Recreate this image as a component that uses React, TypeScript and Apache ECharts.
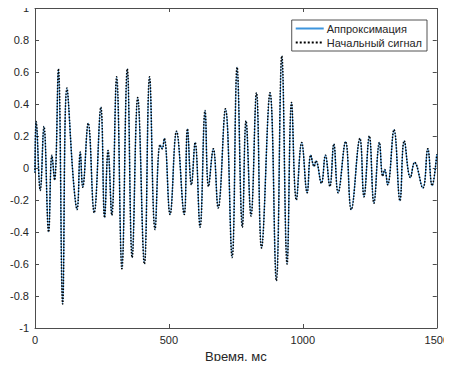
import React, { useEffect, useRef } from "react";
import * as echarts from "echarts";

// Time (ms) of each extremum
const timeMs = [
  0, 4.5, 19.7, 33.4, 50.9, 63.1, 73.1, 87.3, 103.2, 119.2, 143.7, 157.1, 168.9, 178.2,
  198.6, 220.9, 245.8, 259.9, 272.9, 286.6, 304.8, 324.5, 344.6, 362.7, 383.5, 408.4,
  427.7, 448.1, 466.7, 474.5, 482.7, 504.2, 528.4, 557, 569.2, 584, 597.8, 616.3, 634.9,
  647.9, 665.7, 683.9, 711, 735.9, 754.5, 774.1, 787.9, 806.5, 826.9, 845.8, 877.4,
  901.1, 921.5, 941.2, 957.9, 975.8, 995.8, 1016.2, 1029.6, 1042.2, 1048.9, 1069.3,
  1084.2, 1100.9, 1115.7, 1131.7, 1159.5, 1180.7, 1213, 1228.3, 1248.3, 1265.4, 1285.8,
  1298.4, 1305.8, 1316.6, 1340.4, 1362.6, 1378.6, 1401.6, 1417.2, 1448, 1466.6, 1482.5,
  1500,
];

// Original signal values
const signal = [
  -0.03, 0.29, -0.14, 0.26, -0.4, 0.08, -0.075, 0.62, -0.85, 0.5, -0.085, -0.26, 0.1, -0.12,
  0.28, -0.28, 0.38, -0.31, 0.11, -0.295, 0.57, -0.63, 0.62, -0.56, 0.44, -0.6,
  0.57, -0.385, 0.145, 0.12, 0.185, -0.29, 0.23, -0.29, 0.245, -0.105, 0.16, -0.37, 0.36,
  -0.115, 0.12, -0.25, 0.37, -0.56, 0.63, -0.37, 0.295, -0.3, 0.47, -0.5, 0.47,
  -0.705, 0.7, -0.6, 0.41, -0.2, 0.16, -0.155, 0.08, 0.01, 0.045, -0.095,
  0.08, -0.115, 0.15, -0.155, 0.165, -0.26, 0.185, -0.18, 0.2, -0.22, 0.16,
  -0.05, -0.01, -0.105, 0.24, -0.205, 0.17, -0.06, 0.035, -0.125, 0.12, -0.11,
  0.085,
];

// Approximation values (visually identical to the signal)
const approximation = [...signal];

const seriesNames = ["Аппроксимация", "Начальный сигнал"];
const xTicks = { min: 0, max: 1500, interval: 500 };
const yTicks = { min: -1, max: 1, interval: 0.2 };

const FONT = "'Liberation Sans', Arial, Helvetica, sans-serif";
const AXIS_COLOR = "#4d4d4d";
const TEXT_COLOR = "#262626";

export default function App() {
  const ref = useRef<HTMLDivElement>(null);

  useEffect(() => {
    if (!ref.current) return;
    const chart = echarts.init(ref.current, undefined, { renderer: "svg" });

    const approxData = timeMs.map((t, i) => [t, approximation[i]]);
    const signalData = timeMs.map((t, i) => [t, signal[i]]);

    const axisLine = { show: true, onZero: false, lineStyle: { color: AXIS_COLOR, width: 1 } };
    const axisTick = { show: true, inside: true, length: 4, lineStyle: { color: AXIS_COLOR, width: 1 } };

    chart.setOption({
      animation: false,
      backgroundColor: "#ffffff",
      textStyle: { fontFamily: FONT },
      grid: { left: 35, right: 13, top: 8, bottom: 41, containLabel: false },
      legend: {
        data: seriesNames,
        orient: "vertical",
        top: 20,
        right: 25,
        itemWidth: 28,
        itemHeight: 10,
        itemGap: 3,
        padding: [3, 5, 3, 3],
        borderColor: "#262626",
        borderWidth: 0.8,
        borderRadius: 0,
        backgroundColor: "#ffffff",
        itemStyle: { opacity: 0 },
        textStyle: { fontFamily: FONT, fontSize: 11, color: TEXT_COLOR, padding: [0, 0, 0, -2] },
      },
      xAxis: [
        {
          type: "value",
          min: xTicks.min,
          max: xTicks.max,
          interval: xTicks.interval,
          position: "bottom",
          name: "Время, мс",
          nameLocation: "middle",
          nameGap: 20,
          nameTextStyle: { fontFamily: FONT, fontSize: 13, color: TEXT_COLOR },
          axisLine,
          axisTick,
          splitLine: { show: false },
          axisLabel: {
            fontFamily: FONT,
            fontSize: 11,
            color: TEXT_COLOR,
            margin: 6,
            formatter: (v: number) => String(v),
          },
        },
        {
          type: "value",
          min: xTicks.min,
          max: xTicks.max,
          interval: xTicks.interval,
          position: "top",
          axisLine,
          axisTick,
          splitLine: { show: false },
          axisLabel: { show: false },
        },
      ],
      yAxis: [
        {
          type: "value",
          min: yTicks.min,
          max: yTicks.max,
          interval: yTicks.interval,
          position: "left",
          axisLine,
          axisTick,
          splitLine: { show: false },
          axisLabel: {
            fontFamily: FONT,
            fontSize: 11,
            color: TEXT_COLOR,
            margin: 6,
            formatter: (v: number) => String(Math.round(v * 10) / 10),
          },
        },
        {
          type: "value",
          min: yTicks.min,
          max: yTicks.max,
          interval: yTicks.interval,
          position: "right",
          axisLine,
          axisTick,
          splitLine: { show: false },
          axisLabel: { show: false },
        },
      ],
      series: [
        {
          name: seriesNames[0],
          type: "line",
          data: approxData,
          xAxisIndex: 0,
          yAxisIndex: 0,
          smooth: 0.45,
          symbol: "none",
          lineStyle: { color: "#3d95dd", width: 1.2 },
          itemStyle: { color: "#3d95dd" },
        },
        {
          name: seriesNames[1],
          type: "line",
          data: signalData,
          xAxisIndex: 0,
          yAxisIndex: 0,
          smooth: 0.45,
          symbol: "none",
          lineStyle: { color: "#000000", width: 1.5, type: "dotted" },
          itemStyle: { color: "#000000" },
        },
      ],
    });

    return () => chart.dispose();
  }, []);

  return <div ref={ref} style={{ width: 452, height: 369, margin: -8 }} />;
}
